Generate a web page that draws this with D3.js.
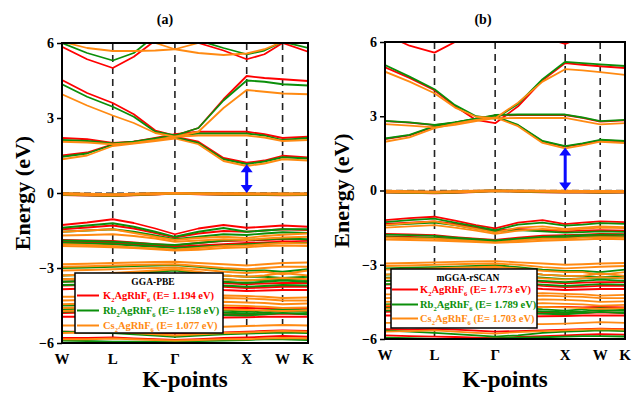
<!DOCTYPE html>
<html>
<head>
<meta charset="utf-8">
<script src="https://cdn.jsdelivr.net/npm/d3@7"></script>
<style>
  body { margin: 0; background: #fff; }
  text { font-family: "Liberation Serif", "Times New Roman", serif; font-weight: bold; }
</style>
</head>
<body>
<div id="chart"></div>
<script>
// k-path W-L-G-X-W-K, in units of 2pi/a
const kPath = [0, 0.35, 0.707, 1.0, 1.3, 1.573, 1.9, 2.25, 2.573, 2.82, 3.073, 3.427];
const kLabels = ["W", "L", "Γ", "X", "W", "K"];
const kLabelPos = [0, 0.707, 1.573, 2.573, 3.073, 3.427];
const energyTicks = [6, 3, 0, -3, -6];

const compounds = ["K_2AgRhF_6", "Rb_2AgRhF_6", "Cs_2AgRhF_6"];
const pbeGaps = [1.194, 1.158, 1.077];
const scanGaps = [1.773, 1.789, 1.703];

// GGA-PBE bands
const pbeK2 = [
  [5.85, 5.35, 5.0, 5.45, 6.1, 6.5, 6.0, 5.7, 5.35, 5.55, 6.0, 5.65],
  [4.52, 4.0, 3.6, 3.15, 2.5, 2.3, 2.6, 3.75, 4.68, 4.6, 4.55, 4.48],
  [2.2, 2.15, 2.0, 2.05, 2.2, 2.35, 2.45, 2.45, 2.45, 2.35, 2.2, 2.25],
  [1.5, 1.62, 1.95, 2.05, 2.15, 2.25, 2.05, 1.4, 1.21, 1.3, 1.49, 1.42],
  [-0.02, -0.04, -0.06, -0.04, -0.02, 0, -0.01, -0.02, -0.02, -0.03, -0.03, -0.03],
  [-0.08, -0.1, -0.12, -0.09, -0.06, -0.02, -0.05, -0.07, -0.08, -0.08, -0.09, -0.08],
  [-1.28, -1.18, -1.05, -1.2, -1.42, -1.65, -1.42, -1.28, -1.39, -1.35, -1.3, -1.35],
  [-1.45, -1.38, -1.3, -1.42, -1.6, -1.78, -1.62, -1.52, -1.55, -1.5, -1.45, -1.48],
  [-1.88, -1.9, -1.92, -1.98, -2.05, -2.1, -2.0, -1.92, -1.9, -1.88, -1.85, -1.88],
  [-1.95, -1.97, -2.0, -2.05, -2.1, -2.15, -2.1, -2.05, -2.0, -1.98, -1.95, -1.97],
  [-3.55, -3.52, -3.5, -3.48, -3.45, -3.45, -3.5, -3.6, -3.65, -3.62, -3.6, -3.6],
  [-3.7, -3.68, -3.65, -3.62, -3.6, -3.58, -3.65, -3.75, -3.8, -3.78, -3.75, -3.75],
  [-3.85, -3.82, -3.8, -3.78, -3.76, -3.75, -3.8, -3.88, -3.92, -3.9, -3.88, -3.88],
  [-4.6, -4.58, -4.55, -4.58, -4.62, -4.65, -4.62, -4.6, -4.6, -4.62, -4.6, -4.62],
  [-4.8, -4.78, -4.75, -4.8, -4.85, -4.9, -4.88, -4.85, -4.85, -4.85, -4.82, -4.85],
  [-4.95, -4.95, -4.92, -4.95, -5.0, -5.02, -5.0, -4.98, -4.97, -4.95, -4.95, -4.95],
  [-5.55, -5.55, -5.52, -5.55, -5.6, -5.62, -5.6, -5.58, -5.55, -5.52, -5.5, -5.52],
  [-5.8, -5.8, -5.78, -5.82, -5.85, -5.88, -5.85, -5.8, -5.78, -5.75, -5.72, -5.75]
];
const pbeRb2 = [
  [6.0, 5.6, 5.3, 5.6, 6.3, 6.6, 6.1, 5.8, 5.55, 5.7, 6.05, 5.8],
  [4.35, 3.85, 3.45, 3.05, 2.45, 2.3, 2.6, 3.7, 4.5, 4.45, 4.35, 4.3],
  [2.12, 2.08, 1.98, 2.05, 2.18, 2.3, 2.38, 2.38, 2.38, 2.3, 2.12, 2.2],
  [1.45, 1.58, 1.93, 2.02, 2.12, 2.22, 2.0, 1.35, 1.16, 1.26, 1.43, 1.38],
  [-0.02, -0.04, -0.06, -0.04, -0.02, 0, -0.01, -0.02, -0.02, -0.03, -0.03, -0.03],
  [-0.07, -0.09, -0.11, -0.08, -0.05, -0.02, -0.04, -0.06, -0.07, -0.07, -0.08, -0.07],
  [-1.39, -1.3, -1.21, -1.35, -1.55, -1.75, -1.55, -1.4, -1.55, -1.5, -1.45, -1.45],
  [-1.55, -1.5, -1.45, -1.55, -1.7, -1.85, -1.75, -1.65, -1.68, -1.62, -1.57, -1.6],
  [-1.9, -1.92, -1.95, -2.0, -2.05, -2.08, -2.0, -1.9, -1.87, -1.85, -1.82, -1.85],
  [-2.0, -2.02, -2.05, -2.1, -2.15, -2.2, -2.15, -2.1, -2.05, -2.02, -2.0, -2.0],
  [-3.0, -2.98, -2.95, -2.92, -2.9, -2.88, -2.95, -3.05, -3.1, -3.1, -3.15, -3.05],
  [-3.3, -3.28, -3.25, -3.2, -3.15, -3.1, -3.2, -3.3, -3.35, -3.35, -3.4, -3.35],
  [-3.45, -3.42, -3.4, -3.38, -3.35, -3.32, -3.4, -3.45, -3.5, -3.48, -3.45, -3.48],
  [-3.55, -3.52, -3.5, -3.48, -3.45, -3.45, -3.5, -3.55, -3.6, -3.55, -3.5, -3.55],
  [-3.68, -3.66, -3.64, -3.62, -3.6, -3.6, -3.64, -3.7, -3.75, -3.72, -3.68, -3.7],
  [-4.5, -4.48, -4.45, -4.5, -4.55, -4.6, -4.62, -4.7, -4.75, -4.7, -4.65, -4.7],
  [-4.65, -4.62, -4.6, -4.62, -4.65, -4.7, -4.72, -4.78, -4.82, -4.78, -4.72, -4.76],
  [-4.75, -4.72, -4.7, -4.75, -4.8, -4.85, -4.85, -4.88, -4.9, -4.85, -4.8, -4.85],
  [-5.55, -5.58, -5.6, -5.65, -5.7, -5.75, -5.7, -5.65, -5.62, -5.6, -5.58, -5.6],
  [-5.9, -5.92, -5.95, -5.95, -5.95, -5.95, -5.92, -5.9, -5.88, -5.85, -5.85, -5.88]
];
const pbeCs2 = [
  [6.05, 5.8, 5.68, 5.68, 5.7, 5.75, 6.0, 6.3, 6.4, 6.3, 6.2, 6.1],
  [6.5, 6.4, 6.3, 6.2, 6.0, 5.75, 5.6, 5.52, 5.58, 5.75, 6.05, 6.1],
  [3.95, 3.5, 3.1, 2.8, 2.4, 2.25, 2.45, 3.4, 4.12, 4.05, 3.98, 3.95],
  [2.05, 2.02, 1.95, 2.0, 2.12, 2.25, 2.3, 2.3, 2.3, 2.22, 2.08, 2.12],
  [1.35, 1.5, 1.88, 1.98, 2.08, 2.18, 1.95, 1.28, 1.08, 1.18, 1.35, 1.3],
  [-0.01, -0.03, -0.05, -0.03, -0.01, 0, -0.01, -0.01, -0.01, -0.02, -0.02, -0.02],
  [-0.06, -0.08, -0.1, -0.07, -0.05, -0.02, -0.04, -0.05, -0.06, -0.06, -0.07, -0.06],
  [-1.55, -1.5, -1.45, -1.6, -1.75, -1.88, -1.8, -1.75, -1.8, -1.72, -1.67, -1.62],
  [-1.7, -1.68, -1.65, -1.72, -1.82, -1.95, -1.9, -1.85, -1.88, -1.82, -1.78, -1.75],
  [-2.05, -2.08, -2.12, -2.18, -2.22, -2.27, -2.2, -2.12, -2.1, -2.05, -2.0, -2.02],
  [-2.12, -2.14, -2.17, -2.2, -2.25, -2.3, -2.27, -2.2, -2.17, -2.12, -2.1, -2.12],
  [-2.85, -2.83, -2.8, -2.78, -2.76, -2.75, -2.8, -2.85, -2.9, -2.85, -2.8, -2.78],
  [-2.95, -2.93, -2.9, -2.88, -2.86, -2.85, -2.92, -3.0, -3.05, -3.0, -2.95, -2.95],
  [-3.1, -3.08, -3.05, -3.02, -3.0, -2.98, -3.05, -3.15, -3.2, -3.15, -3.25, -3.1],
  [-3.3, -3.25, -3.2, -3.15, -3.1, -3.05, -3.15, -3.3, -3.35, -3.3, -3.2, -3.3],
  [-3.45, -3.42, -3.38, -3.35, -3.32, -3.3, -3.38, -3.45, -3.5, -3.45, -3.4, -3.45],
  [-4.15, -4.15, -4.12, -4.15, -4.18, -4.2, -4.15, -4.1, -4.12, -4.15, -4.2, -4.18],
  [-4.3, -4.28, -4.25, -4.28, -4.3, -4.3, -4.25, -4.2, -4.22, -4.25, -4.3, -4.3],
  [-4.45, -4.42, -4.4, -4.42, -4.45, -4.45, -4.4, -4.35, -4.38, -4.4, -4.45, -4.42],
  [-4.6, -4.58, -4.55, -4.58, -4.6, -4.62, -4.55, -4.5, -4.52, -4.55, -4.6, -4.58],
  [-4.72, -4.7, -4.68, -4.7, -4.72, -4.75, -4.7, -4.65, -4.68, -4.7, -4.72, -4.7],
  [-5.3, -5.3, -5.28, -5.3, -5.32, -5.35, -5.35, -5.35, -5.32, -5.3, -5.28, -5.3],
  [-5.6, -5.58, -5.55, -5.6, -5.65, -5.7, -5.65, -5.6, -5.58, -5.55, -5.52, -5.55],
  [-5.85, -5.85, -5.82, -5.85, -5.88, -5.9, -5.88, -5.85, -5.85, -5.82, -5.8, -5.82]
];

// mGGA-rSCAN bands
const scanK2 = [
  [6.3, 5.85, 5.57, 6.0, 6.4, 6.6, 6.5, 6.2, 5.92, 6.2, 6.5, 6.5],
  [4.98, 4.55, 4.05, 3.4, 2.85, 2.72, 3.4, 4.45, 5.15, 5.08, 5.02, 4.95],
  [2.8, 2.74, 2.64, 2.74, 2.88, 3.03, 3.05, 3.05, 3.05, 2.93, 2.78, 2.83],
  [2.08, 2.23, 2.58, 2.73, 2.88, 2.98, 2.63, 1.98, 1.77, 1.88, 2.03, 1.98],
  [-0.02, -0.04, -0.06, -0.04, -0.02, 0, -0.01, -0.02, -0.02, -0.03, -0.03, -0.03],
  [-0.08, -0.1, -0.12, -0.09, -0.06, -0.02, -0.05, -0.07, -0.08, -0.08, -0.09, -0.08],
  [-1.2, -1.12, -1.06, -1.22, -1.4, -1.53, -1.3, -1.2, -1.36, -1.3, -1.25, -1.28],
  [-1.35, -1.3, -1.25, -1.35, -1.5, -1.62, -1.55, -1.6, -1.65, -1.62, -1.6, -1.62],
  [-1.75, -1.77, -1.8, -1.88, -1.95, -2.0, -1.9, -1.82, -1.8, -1.78, -1.75, -1.76],
  [-1.85, -1.87, -1.9, -1.95, -2.0, -2.05, -1.98, -1.9, -1.88, -1.85, -1.82, -1.84],
  [-3.65, -3.62, -3.6, -3.58, -3.55, -3.55, -3.6, -3.7, -3.75, -3.72, -3.7, -3.7],
  [-3.8, -3.78, -3.75, -3.72, -3.7, -3.68, -3.75, -3.85, -3.9, -3.88, -3.85, -3.85],
  [-3.95, -3.92, -3.9, -3.88, -3.86, -3.85, -3.9, -3.98, -4.02, -4.0, -3.98, -3.98],
  [-4.7, -4.68, -4.65, -4.68, -4.72, -4.75, -4.72, -4.7, -4.7, -4.72, -4.7, -4.72],
  [-4.9, -4.88, -4.85, -4.9, -4.95, -5.0, -4.98, -4.95, -4.95, -4.95, -4.92, -4.95],
  [-5.05, -5.05, -5.02, -5.05, -5.1, -5.12, -5.1, -5.08, -5.07, -5.05, -5.05, -5.05],
  [-5.6, -5.62, -5.6, -5.62, -5.66, -5.7, -5.68, -5.65, -5.62, -5.6, -5.58, -5.6],
  [-5.85, -5.88, -5.9, -5.92, -5.95, -5.97, -5.92, -5.88, -5.85, -5.82, -5.8, -5.82]
];
const scanRb2 = [
  [5.07, 4.6, 4.09, 3.45, 3.0, 2.9, 3.5, 4.5, 5.2, 5.15, 5.1, 5.03],
  [2.81, 2.75, 2.65, 2.75, 2.9, 3.05, 3.07, 3.07, 3.07, 2.95, 2.8, 2.85],
  [2.1, 2.25, 2.6, 2.75, 2.9, 3.0, 2.65, 2.0, 1.79, 1.9, 2.05, 2.0],
  [-0.02, -0.04, -0.06, -0.04, -0.02, 0, -0.01, -0.02, -0.02, -0.03, -0.03, -0.03],
  [-0.07, -0.09, -0.11, -0.08, -0.05, -0.02, -0.04, -0.06, -0.07, -0.07, -0.08, -0.07],
  [-1.28, -1.2, -1.14, -1.3, -1.45, -1.6, -1.38, -1.3, -1.42, -1.38, -1.32, -1.35],
  [-1.4, -1.35, -1.3, -1.4, -1.55, -1.65, -1.6, -1.65, -1.7, -1.68, -1.65, -1.67],
  [-1.78, -1.8, -1.83, -1.9, -1.97, -2.02, -1.95, -1.87, -1.83, -1.8, -1.78, -1.78],
  [-1.88, -1.9, -1.92, -1.97, -2.02, -2.07, -2.0, -1.93, -1.9, -1.87, -1.85, -1.86],
  [-3.15, -3.12, -3.1, -3.08, -3.05, -3.02, -3.1, -3.2, -3.25, -3.25, -3.3, -3.2],
  [-3.4, -3.38, -3.35, -3.3, -3.25, -3.2, -3.3, -3.4, -3.45, -3.45, -3.5, -3.45],
  [-3.52, -3.5, -3.48, -3.45, -3.42, -3.4, -3.45, -3.52, -3.58, -3.55, -3.52, -3.55],
  [-3.65, -3.62, -3.6, -3.58, -3.55, -3.55, -3.6, -3.65, -3.7, -3.65, -3.6, -3.65],
  [-3.78, -3.76, -3.74, -3.72, -3.7, -3.7, -3.74, -3.8, -3.85, -3.82, -3.78, -3.8],
  [-4.6, -4.58, -4.55, -4.6, -4.65, -4.7, -4.72, -4.8, -4.85, -4.8, -4.75, -4.8],
  [-4.75, -4.72, -4.7, -4.72, -4.75, -4.8, -4.82, -4.88, -4.92, -4.88, -4.82, -4.86],
  [-4.85, -4.82, -4.8, -4.85, -4.9, -4.95, -4.95, -4.98, -5.0, -4.95, -4.9, -4.95],
  [-5.65, -5.7, -5.75, -5.8, -5.85, -5.9, -5.85, -5.75, -5.7, -5.68, -5.65, -5.68],
  [-5.95, -5.97, -6.0, -6.0, -6.0, -5.98, -5.95, -5.93, -5.9, -5.88, -5.88, -5.9]
];
const scanCs2 = [
  [4.8, 4.4, 3.93, 3.35, 2.98, 2.92, 3.55, 4.4, 4.9, 4.85, 4.78, 4.67],
  [2.68, 2.62, 2.55, 2.65, 2.8, 2.92, 2.93, 2.93, 2.93, 2.8, 2.67, 2.72],
  [1.97, 2.15, 2.52, 2.7, 2.85, 2.95, 2.6, 1.92, 1.7, 1.82, 1.97, 1.92],
  [-0.01, -0.03, -0.05, -0.03, -0.01, 0, -0.01, -0.01, -0.01, -0.02, -0.02, -0.02],
  [-0.06, -0.08, -0.1, -0.07, -0.05, -0.02, -0.04, -0.05, -0.06, -0.06, -0.07, -0.06],
  [-1.4, -1.32, -1.25, -1.4, -1.55, -1.7, -1.5, -1.45, -1.55, -1.5, -1.45, -1.48],
  [-1.5, -1.45, -1.4, -1.5, -1.62, -1.75, -1.62, -1.55, -1.6, -1.55, -1.5, -1.52],
  [-1.9, -1.93, -1.95, -2.0, -2.05, -2.1, -2.02, -1.95, -1.95, -1.9, -1.88, -1.9],
  [-1.98, -2.0, -2.02, -2.05, -2.08, -2.12, -2.08, -2.03, -2.0, -1.98, -1.95, -1.97],
  [-2.95, -2.93, -2.9, -2.88, -2.86, -2.85, -2.9, -2.95, -3.0, -2.98, -2.95, -2.93],
  [-3.05, -3.03, -3.0, -2.98, -2.96, -2.95, -3.0, -3.1, -3.15, -3.12, -3.08, -3.05],
  [-3.2, -3.18, -3.15, -3.12, -3.1, -3.08, -3.15, -3.25, -3.3, -3.3, -3.4, -3.3],
  [-3.4, -3.35, -3.3, -3.25, -3.2, -3.18, -3.25, -3.4, -3.45, -3.45, -3.35, -3.45],
  [-3.55, -3.52, -3.48, -3.45, -3.42, -3.4, -3.48, -3.55, -3.6, -3.55, -3.5, -3.55],
  [-4.2, -4.2, -4.18, -4.2, -4.22, -4.25, -4.2, -4.15, -4.18, -4.2, -4.25, -4.22],
  [-4.35, -4.32, -4.3, -4.32, -4.35, -4.35, -4.3, -4.25, -4.28, -4.3, -4.35, -4.35],
  [-4.5, -4.48, -4.45, -4.48, -4.5, -4.5, -4.45, -4.4, -4.42, -4.45, -4.5, -4.48],
  [-4.65, -4.62, -4.6, -4.62, -4.65, -4.68, -4.6, -4.55, -4.58, -4.6, -4.65, -4.62],
  [-4.78, -4.75, -4.72, -4.75, -4.78, -4.8, -4.75, -4.7, -4.72, -4.75, -4.78, -4.75],
  [-5.35, -5.35, -5.32, -5.35, -5.38, -5.4, -5.4, -5.4, -5.38, -5.35, -5.32, -5.35],
  [-5.7, -5.68, -5.65, -5.7, -5.75, -5.78, -5.72, -5.68, -5.65, -5.62, -5.6, -5.62]
];

const colors = ["#ff0000", "#0a8f0a", "#ff8a12"];

const width = 633, height = 393;

const svg = d3.select("#chart")
    .append("svg")
    .attr("width", width)
    .attr("height", height);

// formula like "K_2AgRhF_6": "_" + digit becomes a subscript
function addFormula(textSel, formula, suffix, size) {
    let shift = size * 0.28;
    let pending = 0;
    formula.split(/(_\d)/).filter(s => s.length).forEach(part => {
        if (part[0] == "_") {
            textSel.append("tspan")
                .attr("font-size", size * 0.62)
                .attr("dy", shift)
                .text(part.slice(1));
            pending = -shift;
        } else {
            textSel.append("tspan").attr("dy", pending).text(part);
            pending = 0;
        }
    });
    textSel.append("tspan").attr("dy", pending).text(suffix);
}

function drawPanel(p) {
    let x = d3.scaleLinear().domain([0, kPath[kPath.length - 1]]).range([p.left, p.right]);
    let y = d3.scaleLinear().domain([-6, 6]).range([p.bottom, p.top]);

    svg.append("clipPath").attr("id", "clip-" + p.id)
        .append("rect")
        .attr("x", p.left).attr("y", p.top)
        .attr("width", p.right - p.left).attr("height", p.bottom - p.top);

    let g = svg.append("g");
    let plot = g.append("g").attr("clip-path", "url(#clip-" + p.id + ")");

    // vertical high-symmetry lines
    plot.selectAll(".kline")
        .data(kLabelPos.slice(1, -1))
        .join("line")
        .attr("x1", d => x(d)).attr("x2", d => x(d))
        .attr("y1", p.top).attr("y2", p.bottom)
        .attr("stroke", "#222")
        .attr("stroke-width", 1.6)
        .attr("stroke-dasharray", "7,5");

    // fermi level
    plot.append("line")
        .attr("x1", p.left).attr("x2", p.right)
        .attr("y1", y(0)).attr("y2", y(0))
        .attr("stroke", "#555")
        .attr("stroke-width", 1.5)
        .attr("stroke-dasharray", "7,4");

    let line = d3.line()
        .x((d, i) => x(kPath[i]))
        .y(d => y(d));

    p.bands.forEach((set, ci) => {
        plot.append("g").selectAll("path")
            .data(set)
            .join("path")
            .attr("d", line)
            .attr("fill", "none")
            .attr("stroke", colors[ci])
            .attr("stroke-width", 1.8)
            .attr("stroke-linejoin", "round");
    });

    // gap arrow
    let ax = x(kLabelPos[3]);
    let yTop = y(p.gaps[0]) + 1, yBot = y(0);
    let hw = 6, hh = 8;
    g.append("line")
        .attr("x1", ax).attr("x2", ax)
        .attr("y1", yTop + hh - 1).attr("y2", yBot - hh + 1)
        .attr("stroke", "#0a0aff").attr("stroke-width", 3);
    g.append("path")
        .attr("d", `M${ax},${yTop} L${ax - hw},${yTop + hh} L${ax + hw},${yTop + hh} Z`)
        .attr("fill", "#0a0aff");
    g.append("path")
        .attr("d", `M${ax},${yBot} L${ax - hw},${yBot - hh} L${ax + hw},${yBot - hh} Z`)
        .attr("fill", "#0a0aff");

    // frame
    g.append("rect")
        .attr("x", p.left).attr("y", p.top)
        .attr("width", p.right - p.left).attr("height", p.bottom - p.top)
        .attr("fill", "none").attr("stroke", "#000").attr("stroke-width", 2);

    // y axis
    let yAxis = g.append("g")
        .attr("transform", "translate(" + p.left + ",0)")
        .call(d3.axisLeft(y).tickValues(energyTicks).tickSize(5).tickPadding(3)
            .tickFormat(d => d < 0 ? "−" + Math.abs(d) : d));
    yAxis.select(".domain").remove();
    yAxis.selectAll("line").attr("stroke-width", 1.5);
    yAxis.selectAll("text")
        .attr("font-size", 14)
        .attr("font-family", "Liberation Serif")
        .attr("font-weight", "bold")
        .attr("fill", "#000");

    // k labels
    g.selectAll(".klab")
        .data(kLabels)
        .join("text")
        .attr("x", (d, i) => x(kLabelPos[i]))
        .attr("y", p.bottom + 21)
        .attr("text-anchor", "middle")
        .attr("font-size", 15)
        .text(d => d);

    g.append("text")
        .attr("x", (p.left + p.right) / 2)
        .attr("y", 387)
        .attr("text-anchor", "middle")
        .attr("font-size", 23)
        .text("K-points");

    g.append("text")
        .attr("transform", "translate(" + p.yLabelX + "," + (p.top + p.bottom) / 2 + ") rotate(-90)")
        .attr("text-anchor", "middle")
        .attr("font-size", 22)
        .text("Energy (eV)");

    g.append("text")
        .attr("x", p.titleX)
        .attr("y", 24)
        .attr("text-anchor", "middle")
        .attr("font-size", 14)
        .text(p.title);

    // legend
    let L = p.legend;
    let lg = g.append("g");
    lg.append("rect")
        .attr("x", L.x).attr("y", L.y)
        .attr("width", L.w).attr("height", L.h)
        .attr("fill", "#fff").attr("stroke", "#000").attr("stroke-width", 1.5);
    lg.append("text")
        .attr("x", L.x + L.w / 2 + 4)
        .attr("y", L.titleY)
        .attr("text-anchor", "middle")
        .attr("font-size", 9.5)
        .text(p.method);
    compounds.forEach((c, i) => {
        let by = L.rows[i];
        lg.append("line")
            .attr("x1", L.lineX0).attr("x2", L.lineX1)
            .attr("y1", by - 3.5).attr("y2", by - 3.5)
            .attr("stroke", colors[i]).attr("stroke-width", 2);
        let t = lg.append("text")
            .attr("x", L.textX)
            .attr("y", by)
            .attr("font-size", 10.5)
            .attr("fill", colors[i]);
        addFormula(t, c, " (E= " + p.gaps[i].toFixed(3) + " eV)", 10.5);
    });
}

drawPanel({
    id: "a", left: 62, right: 308, top: 43, bottom: 343,
    bands: [pbeK2, pbeRb2, pbeCs2], gaps: pbeGaps,
    method: "GGA-PBE", title: "(a)", titleX: 165, yLabelX: 30,
    legend: {x: 75, y: 273, w: 148, h: 60, titleY: 285, rows: [299, 314, 329],
             lineX0: 77, lineX1: 99, textX: 103}
});

drawPanel({
    id: "b", left: 385, right: 625, top: 42, bottom: 339,
    bands: [scanK2, scanRb2, scanCs2], gaps: scanGaps,
    method: "mGGA-rSCAN", title: "(b)", titleX: 483, yLabelX: 349,
    legend: {x: 391, y: 269, w: 146, h: 59, titleY: 281, rows: [293, 308, 322],
             lineX0: 392, lineX1: 418, textX: 420}
});
</script>
</body>
</html>
